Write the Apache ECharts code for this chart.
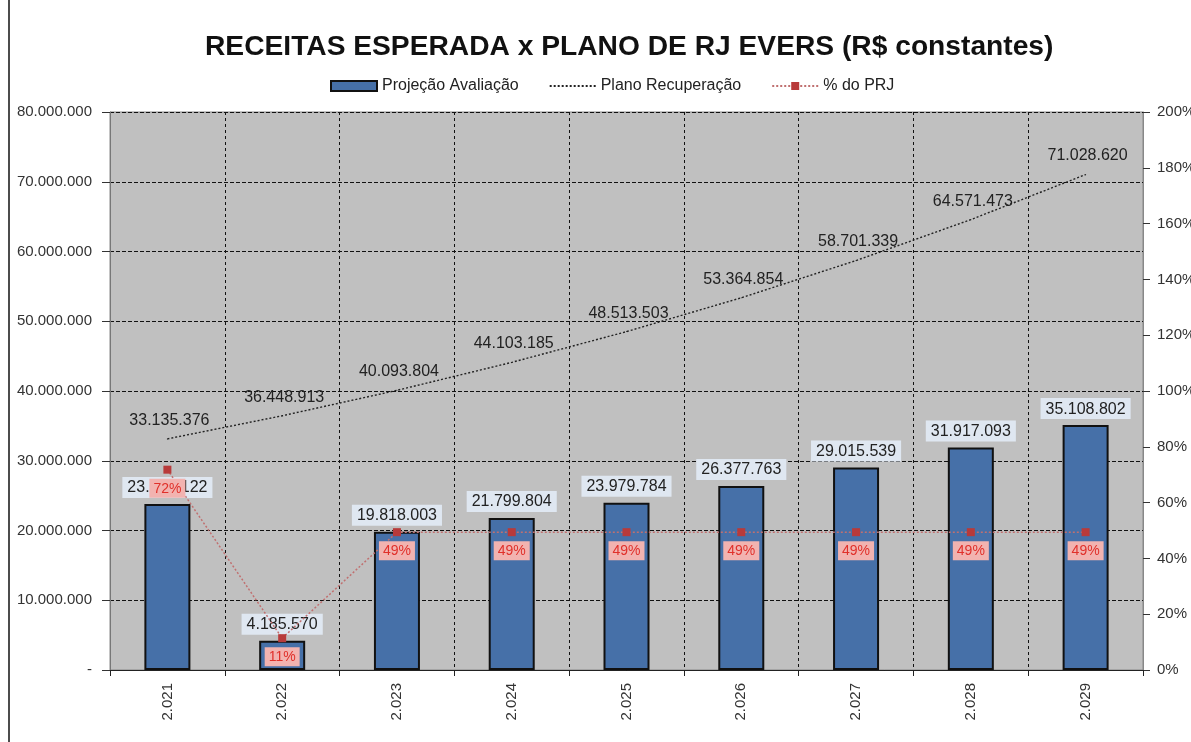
<!DOCTYPE html>
<html>
<head>
<meta charset="utf-8">
<script src="https://cdn.jsdelivr.net/npm/echarts@6/dist/echarts.min.js"></script>
<style>
  html, body { margin: 0; padding: 0; background: #fff; }
  #chart { width: 1191px; height: 742px; }
</style>
</head>
<body>
<div id="chart"></div>
<script>
const years = ['2.021', '2.022', '2.023', '2.024', '2.025', '2.026', '2.027', '2.028', '2.029'];
const projecao = [23791122, 4185570, 19818003, 21799804, 23979784, 26377763, 29015539, 31917093, 35108802];
const plano = [33135376, 36448913, 40093804, 44103185, 48513503, 53364854, 58701339, 64571473, 71028620];
const pctPrj = [71.8, 11.4, 49.4, 49.4, 49.4, 49.4, 49.4, 49.4, 49.4];

const fmt = v => (v === 0 ? '-' : String(Math.round(v)).replace(/\B(?=(\d{3})+(?!\d))/g, '.'));
const FONT = '"Liberation Sans", Arial, sans-serif';

const chart = echarts.init(document.getElementById('chart'), null, { renderer: 'canvas' });

chart.setOption({
  backgroundColor: '#fff',
  animation: false,
  textStyle: { fontFamily: FONT },
  title: {
    text: 'RECEITAS ESPERADA x PLANO DE RJ EVERS (R$ constantes)',
    left: 200, top: 28,
    textStyle: { fontFamily: FONT, fontSize: 28.2, fontWeight: 'bold', color: '#111' },
  },
  legend: {
    top: 73, left: 325,
    itemGap: 30, itemWidth: 46, itemHeight: 10,
    textStyle: { fontFamily: FONT, fontSize: 16, color: '#222' },
    data: [
      { name: 'Projeção Avaliação', icon: 'rect' },
      { name: 'Plano Recuperação', itemStyle: { opacity: 0 } },
      { name: '% do PRJ' },
    ],
  },
  grid: {
    left: 110, right: 48, top: 112, bottom: 72,
    outerBoundsMode: 'none',
    show: true, backgroundColor: '#c0c0c0', borderColor: '#888', borderWidth: 1,
  },
  xAxis: {
    type: 'category', data: years, boundaryGap: true,
    axisLine: { lineStyle: { color: '#222', width: 1 } },
    axisTick: { show: true, length: 6, lineStyle: { color: '#222' } },
    axisLabel: { rotate: 90, fontSize: 15, color: '#333', margin: 13 },
    splitLine: { show: true, lineStyle: { color: '#111', type: [3, 3], width: 1 } },
  },
  yAxis: [
    {
      type: 'value', min: 0, max: 80000000, interval: 10000000,
      axisLine: { show: true, lineStyle: { color: '#777' } },
      axisTick: { show: true, length: 8, lineStyle: { color: '#333' } },
      axisLabel: { fontSize: 15, color: '#333', margin: 18, formatter: fmt },
      splitLine: { show: true, lineStyle: { color: '#111', type: [4, 2], width: 1 } },
    },
    {
      type: 'value', min: 0, max: 200, interval: 20, position: 'right',
      axisLine: { show: true, lineStyle: { color: '#888' } },
      axisTick: { show: true, length: 7, lineStyle: { color: '#333' } },
      axisLabel: { fontSize: 15, color: '#333', margin: 14, formatter: '{value}%' },
      splitLine: { show: false },
    },
  ],
  series: [
    {
      name: 'Projeção Avaliação', type: 'bar', data: projecao, barWidth: 46,
      itemStyle: { color: '#4670a8', borderColor: '#111', borderWidth: 2 },
      label: {
        show: true, position: 'top', distance: 6, formatter: p => fmt(p.value),
        fontSize: 16, color: '#222', backgroundColor: '#dfe7f1', padding: [3, 5, 2, 5],
      },
      z: 2,
    },
    {
      name: 'Plano Recuperação', type: 'line', data: plano,
      symbol: 'circle', symbolSize: 1, showSymbol: true,
      itemStyle: { color: '#222' },
      lineStyle: { color: '#222', width: 1.4, type: [2, 2] },
      label: {
        show: true, position: 'top', distance: 10, offset: [2, 0], formatter: p => fmt(p.value),
        fontSize: 16, color: '#222',
      },
      z: 3,
    },
    {
      name: '% do PRJ', type: 'line', yAxisIndex: 1, data: pctPrj,
      symbol: 'rect', symbolSize: 8,
      itemStyle: { color: '#b83a3a' },
      lineStyle: { color: '#c07070', width: 1.5, type: [2, 2] },
      label: {
        show: true, position: 'bottom', distance: 5, formatter: p => Math.round(p.value) + '%',
        fontSize: 14, color: '#e0302a', backgroundColor: '#f2b3b0', padding: [3, 4, 2, 4],
      },
      z: 4,
    },
  ],
  graphic: [
    { type: 'line', shape: { x1: 9, y1: 0, x2: 9, y2: 742 }, style: { stroke: '#111', lineWidth: 1.5 } },
  ],
});
</script>
</body>
</html>
